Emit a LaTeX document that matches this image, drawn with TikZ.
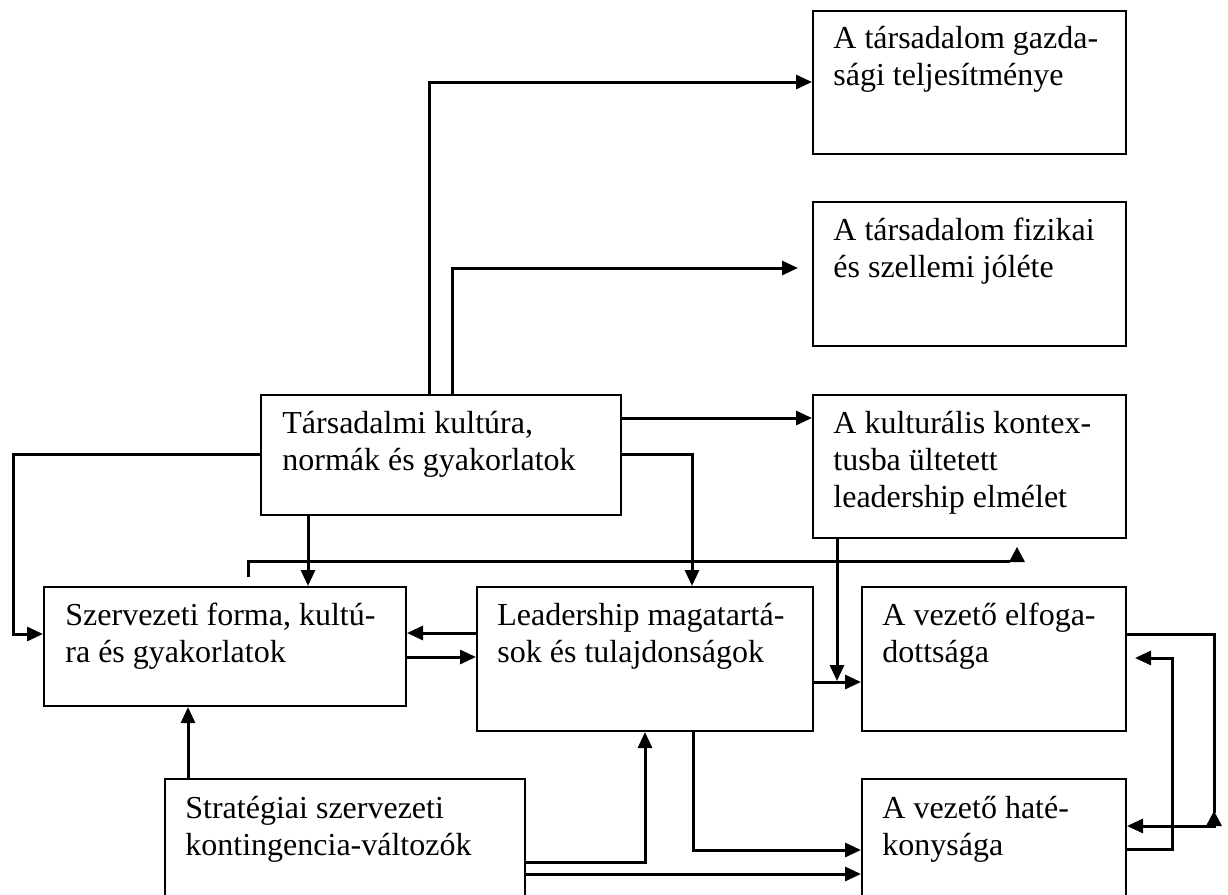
\documentclass[tikz,border=0pt]{standalone}
\usepackage{fontspec}
\setmainfont{Liberation Serif}
\usetikzlibrary{arrows.meta}
\tikzset{
  box/.style={draw, line width=1pt, inner sep=0pt, anchor=north west},
  txt/.style={inner sep=0pt, anchor=base west, align=left, font=\fontsize{16}{18.5}\selectfont},
  arr/.style={line width=1.5pt, -{Triangle[length=8pt,width=7pt]}},
  ln/.style={line width=1.5pt},
  tri/.style={fill=black}
}
\newcommand{\bx}[5]{\node[box, minimum width={(#4-#2)*0.5pt}, minimum height={(#5-#3)*0.5pt}] (#1) at (#2,#3) {};}
\begin{document}
\begin{tikzpicture}[x=0.5pt,y=-0.5pt]
\useasboundingbox (0,0) rectangle (1228,895);
% boxes
\bx{B1}{812}{10}{1125}{153}
\bx{B2}{812}{201}{1125}{345}
\bx{B3}{812}{394}{1125}{537}
\bx{T}{260}{394}{620}{514}
\bx{S}{43}{586}{405}{705}
\bx{L}{476}{586}{812}{730}
\bx{E}{861}{586}{1125}{730}
\bx{ST}{164}{778}{524}{910}
\bx{H}{861}{778}{1125}{910}
% texts (anchor = baseline of the last line)
\node[txt] (tB1) at (833,85) {A társadalom gazda-\\sági teljesítménye};
\node[txt] (tB2) at (833,277) {A társadalom fizikai\\és szellemi jóléte};
\node[txt] (tB3) at (833,507) {A kulturális kontex-\\tusba ültetett\\leadership elmélet};
\node[txt] (tT) at (282,470) {Társadalmi kultúra,\\normák és gyakorlatok};
\node[txt] (tS) at (65,662) {Szervezeti forma, kultú-\\ra és gyakorlatok};
\node[txt] (tL) at (497,662) {Leadership magatartá-\\sok és tulajdonságok};
\node[txt] (tE) at (882,662) {A vezető elfoga-\\dottsága};
\node[txt] (tST) at (185,855) {Stratégiai szervezeti\\kontingencia-változók};
\node[txt] (tH) at (882,855) {A vezető haté-\\konysága};
% connectors from Tarsadalmi
\draw[arr] (T.north -| 429,0) |- (B1.west |- 0,82);
\draw[arr, shorten >=7pt] (T.north -| 452,0) |- (B2.west |- 0,268);
\draw[arr] (T.east |- 0,418) -- (B3.west |- 0,418);
\draw[arr] (T.east |- 0,454) -| (L.north -| 692,0);
\draw[arr] (T.south -| 308,0) -- (S.north -| 308,0);
\coordinate (lc) at (13,454);
\draw[arr] (T.west |- 0,454) -- (lc) |- (S.west |- 0,634);
% loop from Szervezeti top
\coordinate (loopend) at (1010,561);
\draw[ln, shorten <=4.5pt] (S.north -| 248,0) |- (loopend);
\fill[tri] (1009,562) -- (1025,562) -- (1017,547) -- cycle;
% between S and L
\draw[arr] (L.west |- 0,633) -- (S.east |- 0,633);
\draw[arr] (S.east |- 0,657) -- (L.west |- 0,657);
% L to E
\draw[arr] (L.east |- 0,682) -- (E.west |- 0,682);
\coordinate (kulend) at (837,681);
\draw[arr] (B3.south -| 837,0) -- (kulend);
% strategic
\draw[arr] (ST.north -| 188,0) -- (S.south -| 188,0);
\draw[arr] (ST.east |- 0,862) -| (L.south -| 645,0);
\draw[arr] (ST.east |- 0,874) -- (H.west |- 0,874);
\draw[arr] (L.south -| 693,0) |- (H.west |- 0,850);
% right loops
\coordinate (rc) at (1214,813);
\draw[ln] (E.east |- 0,634) -| (rc);
\fill[tri] (1206,826) -- (1222,826) -- (1214,811) -- cycle;
\coordinate (rc2) at (1216,826);
\draw[arr] (rc2) -- (H.east |- 0,826);
\coordinate (rc3) at (1172,849);
\draw[arr, shorten >=4pt] (H.east |- 0,849) -- (rc3) |- (E.east |- 0,658);
\end{tikzpicture}
\end{document}
